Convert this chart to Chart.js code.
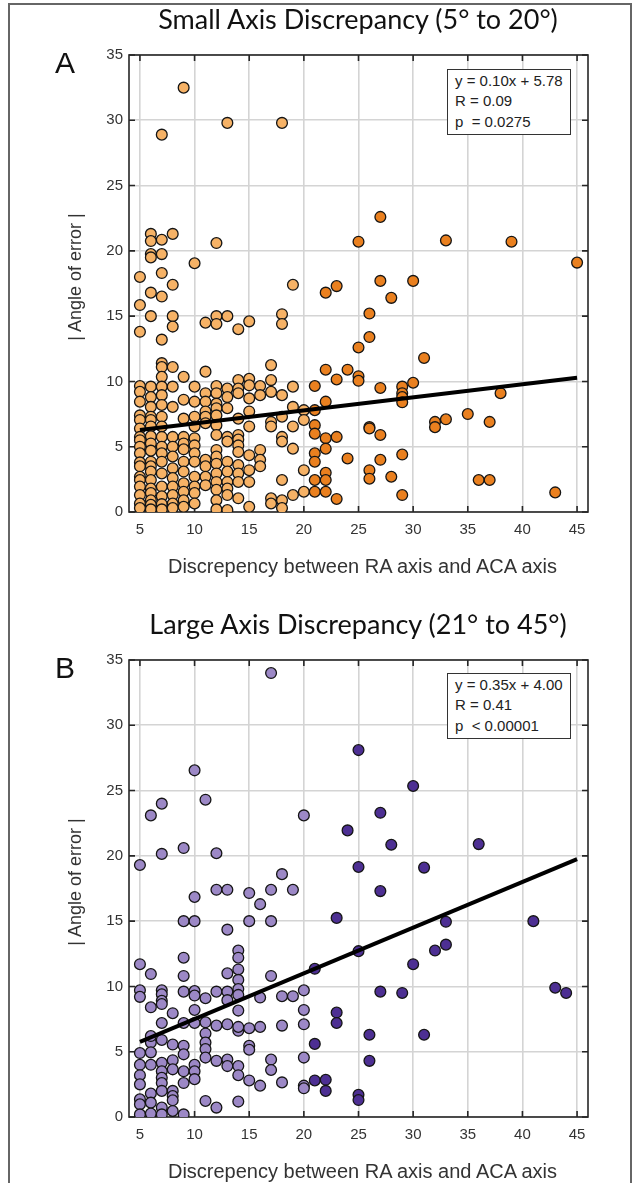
<!DOCTYPE html>
<html><head><meta charset="utf-8">
<script src="https://cdn.jsdelivr.net/npm/chart.js@4.4.1/dist/chart.umd.min.js"></script>
<style>
html,body{margin:0;padding:0;background:#fff}
body{width:641px;height:1183px;position:relative;overflow:hidden;font-family:"Liberation Sans",Arial,sans-serif;color:#222}
#frame{position:absolute;left:8px;top:3px;width:624px;height:1190px;border:2px solid #666;box-sizing:border-box}
canvas{position:absolute;left:0}
.title{position:absolute;left:0;width:716px;text-align:center;font-family:Lato,"Open Sans",sans-serif;font-size:27px;line-height:32.4px;color:#111;white-space:nowrap}
.letter{position:absolute;left:55px;font-size:30px;line-height:33.5px;color:#111}
.xlab{position:absolute;left:133px;width:459px;text-align:center;font-size:20px;line-height:24px;color:#333;white-space:nowrap}
.ylab{position:absolute;font-size:18px;color:#333;white-space:nowrap;transform:translate(-50%,-50%) rotate(-90deg);left:75px}
.eq{position:absolute;left:447px;width:124px;height:66px;box-sizing:border-box;border:1.5px solid #333;background:#fff;font-size:15px;line-height:20.3px;padding:1px 0 0 7px;color:#222;white-space:pre}
</style></head>
<body>
<div id="frame"></div>
<canvas id="cA" width="641" height="600" style="top:0;width:641px;height:600px"></canvas>
<canvas id="cB" width="641" height="578" style="top:605px;width:641px;height:578px"></canvas>
<div class="title" style="top:3px">Small Axis Discrepancy (5° to 20°)</div>
<div class="letter" style="top:46px">A</div>
<div class="ylab" style="top:277px">| Angle of error |</div>
<div class="xlab" style="top:554px">Discrepency between RA axis and ACA axis</div>
<div class="eq" style="top:69px">y = 0.10x + 5.78
R = 0.09
p  = 0.0275</div>
<div class="title" style="top:608px">Large Axis Discrepancy (21° to 45°)</div>
<div class="letter" style="top:651px">B</div>
<div class="ylab" style="top:882px">| Angle of error |</div>
<div class="xlab" style="top:1159px">Discrepency between RA axis and ACA axis</div>
<div class="eq" style="top:673px">y = 0.35x + 4.00
R = 0.41
p  &lt; 0.00001</div>
<script>
const xTicks = [5,10,15,20,25,30,35,40,45];
const yTicks = [0,5,10,15,20,25,30,35];
const splitX = 20;
const colorsA = {light:'#F6B266', dark:'#EA801F'};
const colorsB = {light:'#9C88C6', dark:'#4D2F93'};
const fitA = [[5,6.28],[45,10.28]];
const fitB = [[5,5.75],[45,19.75]];
const pointsA = [
[9,32.5],[7,28.9],[13,29.8],[18,29.8],[6,21.3],[6,20.75],[7,20.85],[8,21.3],[6,19.75],[6,19.5],[7,19.75],[12,20.6],[10,19.05],[5,18.0],[7,18.3],[8,17.4],[6,16.8],[7,16.5],[19,17.4],[22,16.8],[23,17.3],[25,20.7],
[27,22.6],[33,20.8],[39,20.7],[45,19.1],[27,17.7],[30,17.7],[28,16.4],
[26,15.2],[26,13.4],[25,12.6],[31,11.8],[24,10.9],[25,10.4],[25,10.05],[27,9.5],[29,9.6],[29,9.1],[29,8.8],[29,8.4],[30,9.9],[38,9.1],[32,6.9],[32,6.5],[33,7.1],[35,7.5],[37,6.9],[26,6.5],[26,6.4],[27,5.9],[24,4.1],[27,4.0],[29,4.4],[26,3.2],[26,2.55],[28,2.7],[36,2.45],[37,2.45],[43,1.5],[29,1.3],[23,1.0],
[5,15.85],[5,13.8],[6,15.0],[7,13.2],[8,15.0],[8,14.2],[11,14.5],[12,15.0],[12,14.4],[13,15.0],[14,14.0],[15,14.6],[18,15.15],[18,14.4],[17,11.25],[11,10.75],[22,10.9],[23,10.15],[23,5.75],
[5,9.65],[5,9.2],[5,8.45],[5,7.4],[5,7.05],[5,6.4],[5,5.75],[5,5.5],[5,5.0],[5,4.5],[5,3.8],[5,3.5],[5,2.7],[5,2.45],[5,1.95],[5,1.3],[5,0.65],[5,0.3],
[6,9.6],[6,8.8],[6,8.05],[6,7.3],[6,7.05],[6,6.55],[6,5.8],[6,5.25],[6,4.7],[6,3.85],[6,3.5],[6,3.1],[6,2.45],[6,1.8],[6,1.45],[6,0.9],[6,0.55],[6,0.2],
[7,11.4],[7,11.1],[7,10.35],[7,9.6],[7,8.95],[7,8.2],[7,7.3],[7,6.55],[7,5.75],[7,5.0],[7,4.5],[7,3.85],[7,2.95],[7,1.95],[7,1.2],[7,0.6],[7,0.2],
[8,11.1],[8,9.6],[8,8.05],[8,5.75],[8,5.0],[8,4.25],[8,3.35],[8,2.6],[8,1.95],[8,1.3],[8,0.65],[8,0.3],
[9,10.35],[9,8.6],[9,7.15],[9,5.75],[9,5.25],[9,4.8],[9,3.85],[9,3.1],[9,2.2],[9,1.55],[9,0.9],[9,0.4],
[10,9.6],[10,8.45],[10,7.3],[10,6.55],[10,5.65],[10,5.1],[10,4.5],[10,3.85],[10,2.7],[10,1.95],[10,1.45],[10,0.65],
[11,9.1],[11,8.45],[11,7.7],[11,7.3],[11,6.8],[11,4.0],[11,3.5],[11,2.7],[11,2.05],
[12,9.65],[12,9.1],[12,8.3],[12,7.95],[12,7.4],[12,6.65],[12,5.9],[12,4.75],[12,4.25],[12,3.7],[12,2.95],[12,2.3],[12,1.7],[12,0.9],[12,0.2],
[13,9.45],[13,8.8],[13,7.95],[13,5.75],[13,5.4],[13,3.85],[13,3.1],[13,2.3],[13,1.8],[13,1.3],[13,0.15],
[14,10.1],[14,9.45],[14,9.1],[14,7.15],[14,5.9],[14,5.55],[14,5.1],[14,4.6],[14,3.6],[14,2.95],[14,2.3],[14,1.05],
[15,10.2],[15,9.7],[15,8.7],[15,7.7],[15,6.55],[15,4.35],[15,3.2],[15,2.3],[15,0.4],
[16,9.65],[16,8.95],[16,4.75],[16,4.0],[16,3.5],
[17,10.1],[17,9.2],[17,6.9],[17,6.55],[17,1.05],[17,0.65],
[18,8.95],[18,7.3],[18,5.75],[18,5.4],[18,2.45],[18,0.9],[18,0.3],
[19,9.6],[19,8.05],[19,6.55],[19,4.85],[19,1.3],
[20,7.8],[20,7.05],[20,3.2],[20,1.55],
[21,9.65],[21,7.8],[21,6.65],[21,6.0],[21,4.5],[21,3.85],[21,2.45],[21,1.55],
[22,8.45],[22,5.65],[22,4.85],[22,3.0],[22,2.45],[22,1.55]
];
const pointsB = [
[17,34.0],[25,28.1],[10,26.55],[11,24.3],[7,24.0],[6,23.1],[20,23.1],[24,21.95],[9,20.6],[7,20.15],[12,20.2],[5,19.3],[25,19.15],[18,18.6],[30,25.35],[27,23.3],[28,20.85],[36,20.9],[31,19.1],[27,17.3],[23,15.25],[33,14.95],[41,15.0],[25,12.7],[32,12.75],[33,13.2],[30,11.7],[27,9.6],[29,9.5],[43,9.9],[44,9.5],[23,8.0],[23,7.2],[26,6.3],[31,6.3],[26,4.3],[21,11.35],[21,5.6],[21,2.8],[22,2.85],[22,2.0],[25,1.7],[25,1.3],
[12,17.4],[13,17.4],[10,16.85],[15,17.15],[17,17.4],[19,17.4],[16,16.3],[9,15.0],[10,15.0],[13,14.35],[15,15.0],[17,15.0],[5,11.7],[6,10.95],[9,12.2],[9,10.8],[13,11.0],[14,12.75],[14,12.2],[14,11.3],[14,10.5],[14,9.8],[14,9.35],[14,8.15],[14,6.6],[17,10.8],[20,9.7],[5,9.7],[5,9.2],[7,9.7],[7,9.4],[7,8.9],[7,8.65],[9,9.6],[10,9.65],[10,9.3],[11,9.1],[12,9.6],[13,9.6],[13,8.95],[16,9.15],[18,9.25],[19,9.25],[6,8.4],[8,7.95],[7,7.2],[9,7.2],[10,8.2],[10,7.2],[11,7.25],[11,6.4],[11,5.7],[11,5.2],[11,4.55],[12,7.0],[13,7.1],[14,6.9],[15,6.8],[16,6.9],[18,7.0],[20,8.2],[20,7.1],
[5,4.9],[6,5.7],[6,6.2],[6,4.95],[6,4.0],[7,5.9],[8,5.55],[9,5.45],[9,4.8],[15,5.45],[15,5.15],[17,4.4],[17,3.6],[20,4.55],[5,4.0],[5,3.2],[7,4.15],[7,3.5],[7,3.0],[8,4.35],[8,3.65],[9,3.5],[9,2.6],[10,4.0],[10,3.5],[10,2.9],[12,4.3],[13,4.4],[13,3.9],[14,3.9],[14,3.2],[15,2.8],[16,2.4],[18,2.65],[20,2.4],
[5,2.5],[5,1.36],[5,0.97],[5,0.2],[6,1.8],[6,1.1],[6,0.26],[7,2.6],[7,2.0],[7,0.72],[7,0.2],[8,2.0],[8,1.6],[8,1.28],[8,0.46],[9,0.2],[11,1.23],[12,0.72],[14,1.18],[20,2.2]
];

const boxPlugin = {
  id:'mbox',
  beforeDatasetsDraw(chart){
    const {ctx, chartArea:a, scales:{x,y}} = chart;
    ctx.save();
    ctx.strokeStyle = '#262626';
    ctx.lineWidth = 1.6;
    ctx.strokeRect(a.left, a.top, a.right-a.left, a.bottom-a.top);
    ctx.beginPath();
    const L = 6;
    xTicks.forEach(v=>{const p=x.getPixelForValue(v); ctx.moveTo(p,a.top); ctx.lineTo(p,a.top+L); ctx.moveTo(p,a.bottom); ctx.lineTo(p,a.bottom-L);});
    yTicks.forEach(v=>{const p=y.getPixelForValue(v); ctx.moveTo(a.left,p); ctx.lineTo(a.left+L,p); ctx.moveTo(a.right,p); ctx.lineTo(a.right-L,p);});
    ctx.stroke();
    ctx.restore();
  }
};

function makeChart(id, pts, fit, cols, h){
  const font = {family:'"Liberation Sans", Arial, sans-serif', size:15};
  return new Chart(document.getElementById(id), {
    type:'scatter',
    data:{datasets:[
      {type:'line', data: fit.map(p=>({x:p[0],y:p[1]})), borderColor:'#000', borderWidth:4, pointRadius:0, order:0, borderCapStyle:'butt'},
      {data: pts.map(p=>({x:p[0],y:p[1]})),
       backgroundColor: c => (c.raw && c.raw.x > splitX) ? cols.dark : cols.light,
       borderColor:'#151515', borderWidth:1.3, pointRadius:5.4, order:1}
    ]},
    options:{
      responsive:false, animation:false, devicePixelRatio:1,
      layout:{padding:{left:0,right:53,top:55,bottom:0}},
      plugins:{legend:{display:false}, tooltip:{enabled:false}, title:{display:false}},
      scales:{
        x:{type:'linear', min:4, max:46,
           afterBuildTicks: s=>{ s.ticks = xTicks.map(v=>({value:v})); },
           afterFit: s=>{ s.height = h - 512; },
           grid:{color:'#d4d4d4', lineWidth:1.6, drawTicks:false},
           border:{display:false},
           ticks:{font, color:'#333', padding:9, maxRotation:0}},
        y:{type:'linear', min:0, max:35,
           afterBuildTicks: s=>{ s.ticks = yTicks.map(v=>({value:v})); },
           afterFit: s=>{ s.width = 129; },
           grid:{color:'#d4d4d4', lineWidth:1.6, drawTicks:false},
           border:{display:false},
           ticks:{font, color:'#333', padding:6}}
      }
    },
    plugins:[boxPlugin]
  });
}
makeChart('cA', pointsA, fitA, colorsA, 600);
makeChart('cB', pointsB, fitB, colorsB, 578);
</script>
</body></html>
